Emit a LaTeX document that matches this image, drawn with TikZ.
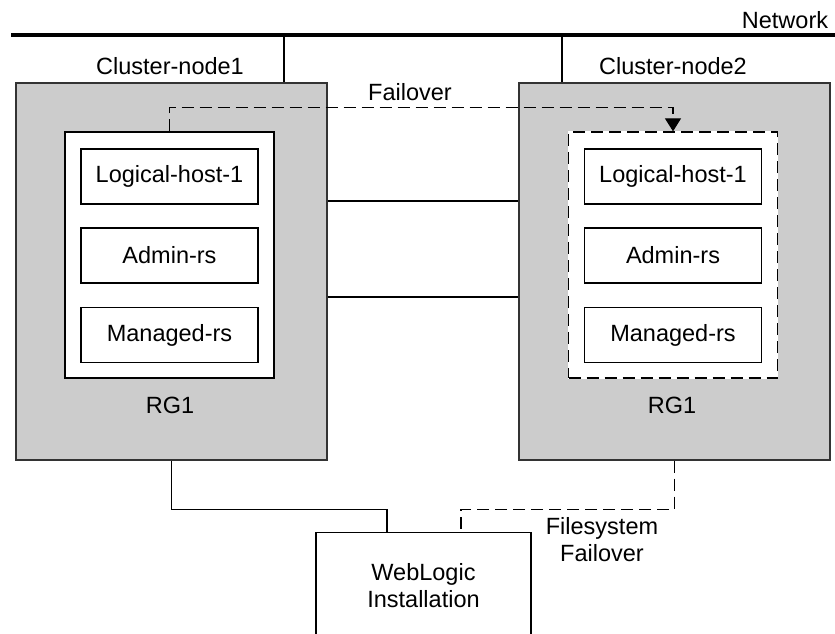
\documentclass[tikz,border=0pt]{standalone}
\usepackage{fontspec}
\setmainfont{Liberation Sans}
\usetikzlibrary{arrows.meta}

\begin{document}
\begin{tikzpicture}[x=1pt,y=-1pt,
    every node/.style={font=\fontsize{23.5}{27}\selectfont},
    cluster/.style={draw=black!80,line width=1.3pt,fill=black!20,minimum width=311pt,minimum height=377pt},
    group/.style={draw,line width=1.3pt,fill=white,minimum width=209pt,minimum height=246pt},
    res/.style={draw,line width=1.3pt,fill=white,minimum width=177pt,minimum height=55pt},
    wire/.style={line width=1.2pt},
    dashwire/.style={wire,dash pattern=on 12pt off 6pt}]
            \clip (0,0) rectangle (835,634);

            %Nodes
            \node at (171.5,271.5) [cluster] (cn1) {};
            \node at (674.5,271.5) [cluster] (cn2) {};
            \node at (785,20)  (net)  {Network};
            \node at (170,66)  (cn1l) {Cluster-node1};
            \node at (673,66)  (cn2l) {Cluster-node2};
            \node at (169.5,255) [group] (rg1) {};
            \node at (673,255) [group,dashed,dash pattern=on 12pt off 6pt,preaction={draw=white,solid}] (rg2) {};
            \node at (169.5,176.5) [res] (lh1) {Logical-host-1};
            \node at (169.5,255.5) [res] (ad1) {Admin-rs};
            \node at (169.5,335)   [res] (mg1) {Managed-rs};
            \node at (673,176.5)   [res] (lh2) {Logical-host-1};
            \node at (673,255.5)   [res] (ad2) {Admin-rs};
            \node at (673,335)     [res] (mg2) {Managed-rs};
            \node at (170,405) (rg1l) {RG1};
            \node at (672,405) (rg2l) {RG1};
            \node at (410,92)  (fo)   {Failover};
            \node at (423.5,532) [res,anchor=north,minimum width=215pt,minimum height=105pt,align=center] (wl) {WebLogic\\Installation};
            \node at (602,540) [align=center] (fsf) {Filesystem\\Failover};
            \coordinate (netw) at (11,35);
            \coordinate (nete) at (835,35);
            \coordinate (tap1) at (284,35);
            \coordinate (tap2) at (562,35);

            %Lines
            \draw[line width=4.5pt] (netw) -- (nete);
            \draw[wire] (tap1) -- (tap1 |- cn1.north);
            \draw[wire] (tap2) -- (tap2 |- cn2.north);
            \draw[wire] ([yshift=70.5pt]cn1.east) -- ([yshift=70.5pt]cn2.west);
            \draw[wire] ([yshift=-25.5pt]cn1.east) -- ([yshift=-25.5pt]cn2.west);
            \draw[dashwire,-{Triangle[length=13pt,width=16pt]}] (rg1.north) -- ++(0,-24) -| (rg2.north);
            \draw[wire] (cn1.south) -- ++(0,48.5) -| ([xshift=-36.5pt]wl.north);
            \draw[dashwire] (cn2.south) -- ++(0,48.5) -| ([xshift=37.5pt]wl.north);
\end{tikzpicture}
\end{document}
